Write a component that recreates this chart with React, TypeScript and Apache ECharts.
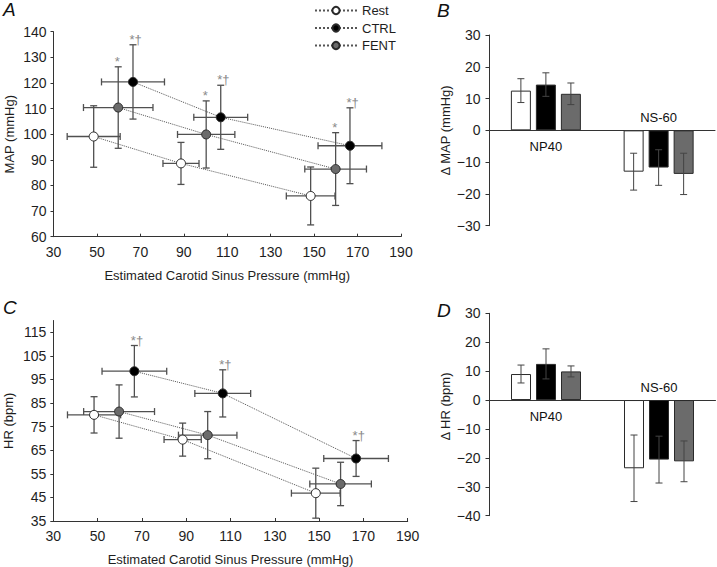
import React, { useEffect, useRef } from 'react';
import * as echarts from 'echarts';

const FONT = '"Liberation Sans", Arial, Helvetica, sans-serif';

// ---- Panel A: MAP vs estimated carotid sinus pressure ----
const X_TICKS = [30, 50, 70, 90, 110, 130, 150, 170, 190];
const MAP_TICKS = [60, 70, 80, 90, 100, 110, 120, 130, 140];
const restMapX = [48.5, 88.7, 148.4];
const restMapXErr = [12.2, 8.3, 11.2];
const restMapY = [99.1, 88.6, 75.9];
const restMapYErr = [12, 8.2, 11.3];
const ctrlMapX = [66.6, 107, 166.5];
const ctrlMapXErr = [14.5, 12.4, 14.7];
const ctrlMapY = [120.4, 106.6, 95.5];
const ctrlMapYErr = [14.5, 12.5, 14.8];
const fentMapX = [59.8, 100.3, 159.9];
const fentMapXErr = [16, 13.2, 14.2];
const fentMapY = [110.4, 99.9, 86.4];
const fentMapYErr = [15.9, 13.1, 14.2];
const ctrlMapSig = ['*†', '*†', '*†'];
const fentMapSig = ['*', '*', '*'];

// ---- Panel C: HR vs estimated carotid sinus pressure ----
const HR_TICKS = [35, 45, 55, 65, 75, 85, 95, 105, 115];
const restHrX = [48.4, 88.4, 148.5];
const restHrXErr = [12, 8.4, 11];
const restHrY = [80, 69.5, 46.8];
const restHrYErr = [7.7, 7, 10.6];
const ctrlHrX = [66.6, 106.5, 166.7];
const ctrlHrXErr = [14.6, 12.6, 14.6];
const ctrlHrY = [98.5, 89.1, 61.5];
const ctrlHrYErr = [10.9, 10, 7.6];
const fentHrX = [59.7, 99.7, 159.7];
const fentHrXErr = [16, 13.2, 13.9];
const fentHrY = [81.4, 71.4, 50.7];
const fentHrYErr = [11.3, 10, 9.2];
const ctrlHrSig = ['*†', '*†', '*†'];

// ---- Panels B & D: bar charts ----
const BAR_CATS = ['NP40', 'NS-60'];
const dMapRest = [12.5, -13];
const dMapRestErr = [3.75, 5.8];
const dMapCtrl = [14.4, -11.7];
const dMapCtrlErr = [3.7, 5.6];
const dMapFent = [11.5, -13.7];
const dMapFentErr = [3.4, 6.5];
const dHrRest = [9, -23.6];
const dHrRestErr = [3.1, 11.5];
const dHrCtrl = [12.5, -20.6];
const dHrCtrlErr = [5.2, 8.1];
const dHrFent = [9.9, -21.2];
const dHrFentErr = [1.9, 7.05];

const GROUPS = ['Rest', 'CTRL', 'FENT'];
const FILL = ['#ffffff', '#000000', '#6b6b6b'];
const EDGE = '#2a2a2a';
const ERR = '#444444';
const AXIS = '#333333';
const LABEL = '#1e1e1e';
const SIG = '#8a8a8a';
const BAR_W = 20;

const minus = (v: number) => (v < 0 ? '\u2212' + Math.abs(v) : String(v));

const zip = (...cols: number[][]) => cols[0].map((_, i) => cols.map((c) => c[i]));

function xyErrRender(params: any, api: any) {
  const x = api.value(0);
  const y = api.value(1);
  const ex = api.value(2);
  const ey = api.value(3);
  const l = api.coord([x - ex, y]);
  const r = api.coord([x + ex, y]);
  const t = api.coord([x, y + ey]);
  const b = api.coord([x, y - ey]);
  const c = 3.5;
  const st = { stroke: '#505050', lineWidth: 1.3 };
  return {
    type: 'group',
    children: [
      { type: 'line', shape: { x1: l[0], y1: l[1], x2: r[0], y2: r[1] }, style: st },
      { type: 'line', shape: { x1: t[0], y1: t[1], x2: b[0], y2: b[1] }, style: st },
      { type: 'line', shape: { x1: l[0], y1: l[1] - c, x2: l[0], y2: l[1] + c }, style: st },
      { type: 'line', shape: { x1: r[0], y1: r[1] - c, x2: r[0], y2: r[1] + c }, style: st },
      { type: 'line', shape: { x1: t[0] - c, y1: t[1], x2: t[0] + c, y2: t[1] }, style: st },
      { type: 'line', shape: { x1: b[0] - c, y1: b[1], x2: b[0] + c, y2: b[1] }, style: st },
    ],
  };
}

function barErrRender(params: any, api: any) {
  const ci = api.value(0);
  const v = api.value(1);
  const e = api.value(2);
  const s = api.value(3);
  const off = (s - 1) * BAR_W * 1.25;
  const t = api.coord([ci, v + e]);
  const b = api.coord([ci, v - e]);
  const x = t[0] + off;
  const c = 3.5;
  const st = { stroke: ERR, lineWidth: 1 };
  return {
    type: 'group',
    children: [
      { type: 'line', shape: { x1: x, y1: t[1], x2: x, y2: b[1] }, style: st },
      { type: 'line', shape: { x1: x - c, y1: t[1], x2: x + c, y2: t[1] }, style: st },
      { type: 'line', shape: { x1: x - c, y1: b[1], x2: x + c, y2: b[1] }, style: st },
    ],
  };
}

const textStyle = { fontFamily: FONT, fontSize: 13, color: LABEL };
const tickStyle = { fontFamily: FONT, fontSize: 14, color: LABEL };

function scatterXAxis(gridIndex: number) {
  return {
    type: 'value',
    gridIndex,
    min: 30,
    max: 190,
    name: 'Estimated Carotid Sinus Pressure (mmHg)',
    nameLocation: 'middle',
    nameGap: 32,
    nameTextStyle: { ...textStyle },
    axisLine: { show: true, onZero: false, lineStyle: { color: AXIS, width: 1 } },
    axisTick: { show: true, inside: true, length: 3, customValues: X_TICKS, lineStyle: { color: AXIS } },
    axisLabel: { customValues: X_TICKS, margin: 8, ...tickStyle },
    splitLine: { show: false },
  };
}

function scatterYAxis(gridIndex: number, name: string, min: number, max: number, ticks: number[]) {
  return {
    type: 'value',
    gridIndex,
    min,
    max,
    name,
    nameLocation: 'middle',
    nameGap: 38,
    nameTextStyle: { ...textStyle },
    axisLine: { show: true, onZero: false, lineStyle: { color: AXIS, width: 1 } },
    axisTick: { show: true, inside: false, length: 3, customValues: ticks, lineStyle: { color: AXIS } },
    axisLabel: { customValues: ticks, margin: 7, ...tickStyle },
    splitLine: { show: false },
  };
}

function barYAxis(gridIndex: number, name: string, min: number, max: number, namePad: number[]) {
  return {
    type: 'value',
    gridIndex,
    min,
    max,
    interval: 10,
    name,
    nameLocation: 'middle',
    nameGap: 38,
    nameTextStyle: { ...textStyle, padding: namePad },
    axisLine: { show: true, onZero: false, lineStyle: { color: AXIS, width: 1 } },
    axisTick: { show: true, inside: false, length: 4, lineStyle: { color: AXIS } },
    axisLabel: { margin: 9, formatter: minus, ...tickStyle },
    splitLine: { show: false },
  };
}

function barXAxis(gridIndex: number) {
  return {
    type: 'category',
    gridIndex,
    data: BAR_CATS,
    axisLine: { show: true, onZero: true, lineStyle: { color: AXIS, width: 1 } },
    axisTick: { show: false },
    axisLabel: { show: false },
    splitLine: { show: false },
  };
}

function groupSeries(name: string, gi: number, axisIdx: number, xs: number[], ys: number[]) {
  return {
    type: 'line',
    name,
    xAxisIndex: axisIdx,
    yAxisIndex: axisIdx,
    data: zip(xs, ys),
    symbol: 'circle',
    symbolSize: 9,
    z: 4,
    lineStyle: { color: '#555', width: 1, type: 'dotted' },
    itemStyle: { color: FILL[gi], borderColor: EDGE, borderWidth: 1 },
    emphasis: { disabled: true },
  };
}

function errSeries(axisIdx: number, xs: number[], xe: number[], ys: number[], ye: number[]) {
  return {
    type: 'custom',
    xAxisIndex: axisIdx,
    yAxisIndex: axisIdx,
    data: zip(xs, ys, xe, ye),
    renderItem: xyErrRender,
    z: 2,
    silent: true,
  };
}

function barSeries(name: string, gi: number, axisIdx: number, vals: number[]) {
  return {
    type: 'bar',
    name,
    xAxisIndex: axisIdx,
    yAxisIndex: axisIdx,
    data: vals,
    barWidth: BAR_W,
    barGap: '25%',
    z: 2,
    itemStyle: { color: FILL[gi], borderColor: EDGE, borderWidth: 1 },
    emphasis: { disabled: true },
  };
}

function barErr(axisIdx: number, sets: [number[], number[]][]) {
  const data: number[][] = [];
  sets.forEach(([v, e], s) => v.forEach((val, ci) => data.push([ci, val, e[ci], s])));
  return {
    type: 'custom',
    xAxisIndex: axisIdx,
    yAxisIndex: axisIdx,
    data,
    renderItem: barErrRender,
    z: 3,
    silent: true,
  };
}

const letter = (t: string, x: number, y: number) => ({
  type: 'text',
  x,
  y,
  silent: true,
  style: { text: t, font: `italic 19px ${FONT}`, fill: '#111', textVerticalAlign: 'top' },
});

const option: any = {
  animation: false,
  backgroundColor: '#ffffff',
  textStyle: { fontFamily: FONT },
  grid: [
    { left: 53.5, top: 31.7, width: 347.5, height: 205 },
    { left: 489.5, top: 35, width: 225.5, height: 190.7 },
    { left: 53.3, top: 320.5, width: 354.4, height: 201 },
    { left: 489.5, top: 313.3, width: 226, height: 202.4 },
  ],
  xAxis: [scatterXAxis(0), barXAxis(1), scatterXAxis(2), barXAxis(3)],
  yAxis: [
    scatterYAxis(0, 'MAP (mmHg)', 60, 140, MAP_TICKS),
    barYAxis(1, '\u0394 MAP (mmHg)', -30, 30, [0, 0, 0, 0]),
    scatterYAxis(2, 'HR (bpm)', 35, 120, HR_TICKS),
    barYAxis(3, '\u0394 HR (bpm)', -40, 30, [0, 0, 0, 16]),
  ],
  legend: {
    data: GROUPS,
    orient: 'vertical',
    left: 309,
    top: -1,
    itemWidth: 42,
    itemHeight: 9,
    itemGap: 4.5,
    selectedMode: false,
    textStyle: { ...textStyle },
  },
  series: [
    errSeries(0, restMapX, restMapXErr, restMapY, restMapYErr),
    errSeries(0, ctrlMapX, ctrlMapXErr, ctrlMapY, ctrlMapYErr),
    errSeries(0, fentMapX, fentMapXErr, fentMapY, fentMapYErr),
    groupSeries('Rest', 0, 0, restMapX, restMapY),
    groupSeries('CTRL', 1, 0, ctrlMapX, ctrlMapY),
    groupSeries('FENT', 2, 0, fentMapX, fentMapY),

    errSeries(2, restHrX, restHrXErr, restHrY, restHrYErr),
    errSeries(2, ctrlHrX, ctrlHrXErr, ctrlHrY, ctrlHrYErr),
    errSeries(2, fentHrX, fentHrXErr, fentHrY, fentHrYErr),
    groupSeries('Rest HR', 0, 2, restHrX, restHrY),
    groupSeries('CTRL HR', 1, 2, ctrlHrX, ctrlHrY),
    groupSeries('FENT HR', 2, 2, fentHrX, fentHrY),

    barSeries('Rest ΔMAP', 0, 1, dMapRest),
    barSeries('CTRL ΔMAP', 1, 1, dMapCtrl),
    barSeries('FENT ΔMAP', 2, 1, dMapFent),
    barErr(1, [
      [dMapRest, dMapRestErr],
      [dMapCtrl, dMapCtrlErr],
      [dMapFent, dMapFentErr],
    ]),

    barSeries('Rest ΔHR', 0, 3, dHrRest),
    barSeries('CTRL ΔHR', 1, 3, dHrCtrl),
    barSeries('FENT ΔHR', 2, 3, dHrFent),
    barErr(3, [
      [dHrRest, dHrRestErr],
      [dHrCtrl, dHrCtrlErr],
      [dHrFent, dHrFentErr],
    ]),
  ],
};

// Texts placed through the chart's own scales once the axes exist.
function annotations(chart: any) {
  const out: any[] = [letter('A', 3, 0), letter('B', 437, 1), letter('C', 3, 298), letter('D', 437, 301)];
  const sig = (axisIdx: number, xs: number[], ys: number[], ye: number[], marks: string[]) => {
    xs.forEach((x, i) => {
      const p = chart.convertToPixel({ xAxisIndex: axisIdx, yAxisIndex: axisIdx }, [x, ys[i] + ye[i]]);
      out.push({
        type: 'text',
        x: p[0] - 3.5,
        y: p[1] + 1,
        silent: true,
        style: {
          text: marks[i],
          font: `13px ${FONT}`,
          fill: SIG,
          textAlign: marks[i].length > 1 ? 'left' : 'left',
          textVerticalAlign: 'bottom',
        },
      });
    });
  };
  sig(0, ctrlMapX, ctrlMapY, ctrlMapYErr, ctrlMapSig);
  sig(0, fentMapX, fentMapY, fentMapYErr, fentMapSig);
  sig(2, ctrlHrX, ctrlHrY, ctrlHrYErr, ctrlHrSig);
  [1, 3].forEach((axisIdx) => {
    BAR_CATS.forEach((cat, ci) => {
      const p = chart.convertToPixel({ xAxisIndex: axisIdx, yAxisIndex: axisIdx }, [ci, 0]);
      const below = ci === 0;
      out.push({
        type: 'text',
        x: p[0],
        y: below ? p[1] + 10 : p[1] - 6,
        silent: true,
        style: {
          text: cat,
          font: `13px ${FONT}`,
          fill: '#111111',
          textAlign: 'center',
          textVerticalAlign: below ? 'top' : 'bottom',
        },
      });
    });
  });
  return out;
}

export default function App() {
  const ref = useRef<HTMLDivElement>(null);
  useEffect(() => {
    if (!ref.current) return;
    const chart = echarts.init(ref.current, null, { renderer: 'svg' });
    chart.setOption(option);
    chart.setOption({ graphic: annotations(chart) });
    return () => chart.dispose();
  }, []);
  return (
    <div
      ref={ref}
      style={{ position: 'fixed', left: 0, top: 0, width: 717, height: 567, background: '#fff' }}
    />
  );
}
